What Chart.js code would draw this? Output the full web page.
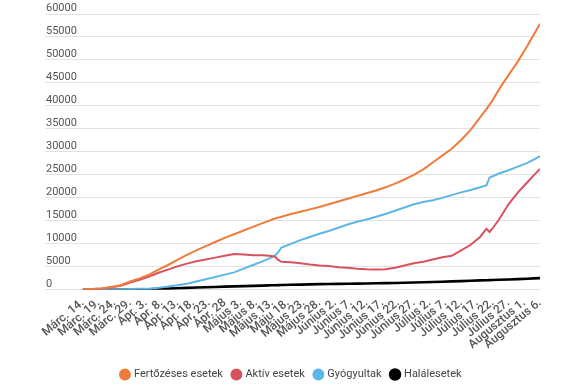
<!DOCTYPE html>
<html>
<head>
<meta charset="utf-8">
<script src="https://cdn.jsdelivr.net/npm/chart.js@4/dist/chart.umd.min.js"></script>
<style>
html,body{margin:0;padding:0;background:#fff;}
#wrap{width:575px;height:387px;position:relative;}
</style>
</head>
<body>
<div id="wrap"><canvas id="c"></canvas></div>
<script>
// Day index 0 = Márc. 14.
const days = [0,3,6,9,12,15,18,21,24,27,30,33,36,39,42,45,48,51,54,57,59,60,61,62,63,66,69,72,75,78,81,84,87,90,93,96,99,102,105,108,111,114,117,120,123,126,128,129,130,132,135,138,141,143,145];
const cases = [120,190,300,600,1000,1800,2500,3300,4400,5400,6500,7600,8600,9500,10400,11300,12100,12900,13700,14500,15000,15300,15500,15700,15900,16500,17000,17500,18000,18600,19200,19800,20400,21000,21600,22300,23100,24000,25000,26200,27700,29200,30700,32600,34800,37500,39300,40300,41300,43600,46700,49700,53100,55500,57900];
const active = [110,170,270,550,900,1600,2200,2900,3700,4400,5100,5700,6200,6600,7000,7400,7800,7700,7500,7500,7400,7300,7200,6500,6100,6000,5800,5500,5300,5200,4900,4800,4600,4450,4400,4500,4800,5300,5800,6100,6600,7100,7400,8600,9800,11500,13300,12600,13400,15300,18600,21200,23400,24900,26300];
const recovered = [10,10,20,40,90,170,210,260,450,700,1000,1300,1800,2300,2800,3300,3800,4600,5400,6200,6800,7100,7500,8200,9200,10000,10800,11500,12200,12800,13500,14200,14800,15300,15900,16500,17200,17900,18600,19100,19500,20000,20600,21200,21700,22300,22700,24400,24700,25300,26000,26800,27600,28300,29100];
const deaths = [0,0,2,10,20,40,80,130,200,270,350,420,500,560,620,690,750,800,850,920,970,1000,1010,1030,1040,1090,1140,1190,1230,1260,1290,1320,1350,1380,1420,1460,1500,1550,1600,1650,1700,1760,1830,1900,1970,2050,2090,2110,2130,2180,2250,2330,2420,2480,2550];
const tickLabels = ["Márc. 14.","Márc. 19.","Márc. 24.","Márc. 29.","Ápr. 3.","Ápr. 8.","Ápr. 13.","Ápr. 18.","Ápr. 23.","Ápr. 28","Május 3.","Május 8.","Május 13.","Máju 18.","Május 23.","Május 28.","Június 2.","Június 7.","Június 12.","Június 17.","Június 22.","Június 27.","Július 2.","Július 7.","Július 12.","Július 17.","Július 22.","Július 27.","Augusztus 1.","Augusztus 6."];
const seriesNames = ["Fertőzéses esetek","Aktív esetek","Gyógyultak","Halálesetek"];
const yTicks = [0,5000,10000,15000,20000,25000,30000,35000,40000,45000,50000,55000,60000];

const pts = arr => days.map((d,i)=>({x:d,y:arr[i]}));
const colors = ['#ef7b3d','#d6535d','#5db7e5','#000000'];
const widths = [2,2,2,2.6];
const all = [cases, active, recovered, deaths];

new Chart(document.getElementById('c'), {
  type: 'line',
  data: {
    datasets: all.map((arr,i)=>({
      label: seriesNames[i],
      data: pts(arr),
      borderColor: colors[i],
      backgroundColor: colors[i],
      borderWidth: widths[i],
      pointRadius: 0,
      tension: 0,
      fill: false
    }))
  },
  options: {
    responsive: true,
    maintainAspectRatio: false,
    animation: false,
    layout: { padding: { left: 43, right: 35, top: 14, bottom: -3 } },
    plugins: {
      tooltip: { enabled: false },
      legend: {
        position: 'bottom',
        labels: {
          usePointStyle: true,
          pointStyle: 'circle',
          boxWidth: 7,
          boxHeight: 7,
          padding: 10,
          color: '#444',
          font: { family: 'Roboto', size: 11 }
        }
      }
    },
    scales: {
      x: {
        type: 'linear',
        min: -12,
        max: 145,
        afterBuildTicks: s => { s.ticks = tickLabels.map((_,i)=>({value:i*5})); },
        afterFit: s => { s.height += 1; },
        grid: { display: false, drawTicks: false },
        border: { display: false },
        ticks: {
          autoSkip: false,
          minRotation: 40,
          maxRotation: 40,
          padding: 6,
          color: '#555',
          font: { family: 'Roboto', size: 12, weight: '500' },
          callback: v => tickLabels[Math.round(v/5)]
        }
      },
      y: {
        min: 0,
        max: 60000,
        afterBuildTicks: s => { s.ticks = yTicks.map(v=>({value:v})); },
        grid: { color: '#e2e2e2', lineWidth: 1, drawTicks: false },
        border: { display: false },
        ticks: {
          mirror: true,
          padding: 1,
          labelOffset: -6,
          color: '#555',
          font: { family: 'Roboto', size: 11 },
          callback: v => String(v)
        }
      }
    }
  }
});
</script>
</body>
</html>
